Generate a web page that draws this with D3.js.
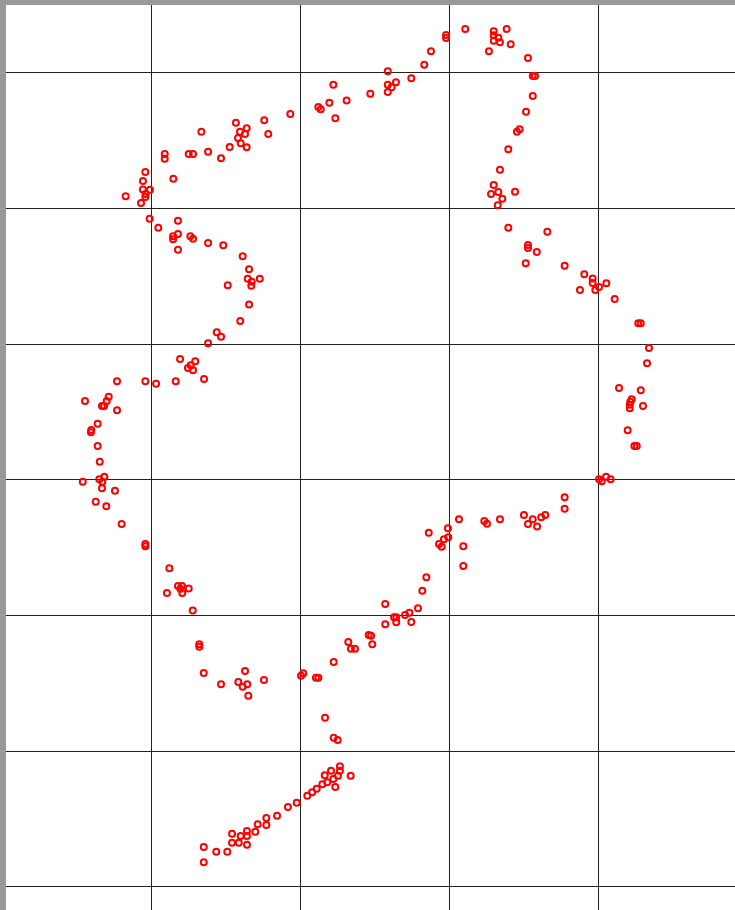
<!DOCTYPE html>
<html>
<head>
<meta charset="utf-8">
<script src="https://cdn.jsdelivr.net/npm/d3@7"></script>
<style>
  html, body { margin: 0; padding: 0; background: #fff; }
  svg { display: block; }
</style>
</head>
<body>
<div id="chart"></div>
<script>
// grid ticks
var xTicks = [0, 10, 20, 30, 40, 50];
var yTicks = [0, 10, 20, 30, 40, 50, 60];

// points
var xValues = [
  15.70, 13.38, 15.97, 16.42, 16.31, 15.84, 16.02, 16.42, 15.28, 13.83,
  14.70, 12.53, 12.82, 10.92, 10.92, 11.50, 9.62, 9.46, 9.46, 9.93,
  9.64, 9.62, 8.30, 9.33, 9.91, 10.49, 11.81, 11.81, 11.48, 11.48,
  11.81, 12.64, 12.82, 13.83, 14.85, 16.15, 16.58, 16.49, 16.76, 16.73,
  17.30, 15.15, 16.58, 15.99, 14.41, 14.70, 13.83, 11.95, 12.97, 12.66,
  12.48, 12.82, 13.56, 11.66, 10.34, 9.62, 7.72, 7.16, 7.03, 6.71,
  6.85, 5.57, 7.72, 6.42, 5.99, 5.97, 6.42, 6.56, 6.87, 6.53,
  6.73, 5.42, 6.71, 7.58, 6.29, 7.00, 8.03, 9.62, 9.62, 11.23,
  11.81, 12.08, 11.97, 12.53, 11.07, 12.10, 12.80, 13.24, 13.24, 13.54,
  14.70, 15.86, 16.31, 16.15, 16.46, 17.58, 16.53,
  20.07, 20.22, 21.07, 21.23, 22.26, 23.24, 23.42, 23.69, 24.61, 24.77,
  24.85, 25.72, 25.72, 26.31, 26.46, 26.46, 27.05, 27.34, 27.47, 27.92,
  28.21, 28.48, 28.64, 29.33, 29.51, 29.66, 29.95, 29.93, 30.67, 30.96,
  30.96, 32.37, 32.55, 33.42, 35.03, 35.30, 35.62, 35.91, 36.19, 36.46,
  37.76, 37.76, 40.07, 40.25, 40.54, 40.85, 41.99, 42.44, 42.60, 42.13,
  42.13, 42.17, 42.26, 43.02, 42.87, 41.41, 43.29, 43.42, 42.70, 42.87,
  41.12, 39.82, 40.07, 40.56, 39.64, 39.64, 39.08, 38.79, 37.76, 35.15,
  35.89, 35.30, 35.30, 36.60, 33.98, 33.27, 33.58, 32.82, 33.31, 33.00,
  34.43, 33.42, 33.98, 34.56, 34.74, 35.17, 35.62, 35.62, 35.77, 35.30,
  34.14, 33.42, 33.00, 33.31, 33.00, 33.00, 33.87, 32.68, 31.09, 29.80,
  29.80, 28.79, 28.34, 27.47, 25.89, 26.44, 26.15, 25.89, 25.89, 24.72,
  23.13, 22.24, 21.97, 21.23, 21.39, 22.37, 19.35, 17.60, 17.87,
  21.68, 22.26, 22.53, 22.68, 22.08, 22.68, 21.66, 22.55, 22.24, 23.40,
  21.83, 21.50, 22.37, 21.12, 20.81, 20.49, 19.78, 19.19, 18.46, 17.74,
  17.74, 17.16, 17.00, 16.44, 16.44, 16.02, 15.44, 15.44, 15.89, 16.44,
  15.12, 14.38, 13.54, 13.54
];
var yValues = [
  56.28, 55.62, 55.62, 55.87, 55.45, 55.16, 54.77, 54.47, 54.49, 54.15,
  53.66, 53.98, 53.98, 53.98, 53.63, 52.16, 52.65, 51.99, 51.37, 51.34,
  51.03, 50.81, 50.86, 50.36, 49.21, 48.54, 49.06, 48.08, 47.91, 47.69,
  46.92, 47.91, 47.73, 47.42, 47.25, 46.44, 45.48, 44.79, 44.56, 44.27,
  44.79, 44.30, 42.88, 41.67, 40.83, 40.51, 40.02, 38.87, 38.70, 38.40,
  38.20, 38.03, 37.39, 37.22, 37.05, 37.22, 37.22, 36.09, 35.77, 35.40,
  35.40, 35.77, 35.09, 34.10, 33.63, 33.46, 32.45, 31.30, 30.19, 30.00,
  29.82, 29.82, 29.34, 29.16, 28.35, 28.01, 26.70, 25.23, 25.06, 23.44,
  22.13, 22.13, 21.94, 21.96, 21.62, 21.62, 20.33, 17.84, 17.66, 15.72,
  14.89, 15.06, 15.87, 14.71, 14.89, 15.21, 14.05,
  15.52, 15.70, 15.38, 15.38, 16.53, 18.01, 17.51, 17.51, 18.52, 18.47,
  17.84, 20.81, 19.31, 19.83, 19.83, 19.46, 20.00, 20.17, 19.48, 20.49,
  21.79, 22.78, 26.06, 25.23, 25.03, 25.58, 25.72, 26.39, 27.05, 25.06,
  23.61, 26.93, 26.73, 27.05, 27.37, 26.70, 27.05, 26.53, 27.20, 27.37,
  28.67, 27.83, 30.00, 29.85, 30.19, 30.00, 33.61, 32.45, 32.45, 35.23,
  35.50, 35.72, 35.90, 35.40, 36.56, 36.73, 38.55, 39.68, 41.50, 41.50,
  43.29, 43.95, 44.17, 44.45, 44.47, 44.81, 45.11, 43.95, 45.74, 45.92,
  46.75, 47.05, 47.27, 48.25, 48.54, 50.20, 50.68, 51.03, 51.17, 51.69,
  51.20, 52.82, 54.32, 55.62, 55.80, 57.09, 58.25, 59.73, 59.73, 61.05,
  62.06, 62.21, 62.33, 62.55, 62.73, 63.02, 63.19, 61.55, 63.19, 62.75,
  62.53, 61.55, 60.56, 59.56, 60.07, 59.26, 58.89, 59.08, 58.55, 58.42,
  57.93, 59.08, 57.76, 57.44, 57.27, 56.61, 56.92, 56.46, 55.45,
  12.43, 10.95, 10.78, 8.84, 8.52, 8.52, 8.18, 8.15, 7.91, 8.15,
  7.67, 7.52, 7.32, 7.19, 6.93, 6.68, 6.16, 5.85, 5.20, 5.03,
  4.52, 4.57, 4.02, 4.08, 3.71, 3.71, 3.88, 3.21, 3.21, 3.07,
  2.55, 2.55, 2.90, 1.77
];

var width = 735, height = 910;
var marginLeft = 6, marginTop = 5;

var points = xValues.map(function(v, i){ return { x: v, y: yValues[i] }; });

var svg = d3.select("#chart")
  .append("svg")
  .attr("width", width)
  .attr("height", height);

// grey frame
svg.append("rect")
  .attr("width", width)
  .attr("height", height)
  .attr("fill", "#999999");
svg.append("rect")
  .attr("x", marginLeft)
  .attr("y", marginTop)
  .attr("width", width - marginLeft)
  .attr("height", height - marginTop)
  .attr("fill", "#ffffff");

svg.append("defs").append("clipPath")
  .attr("id", "plotClip")
  .append("rect")
  .attr("x", marginLeft)
  .attr("y", marginTop)
  .attr("width", width - marginLeft)
  .attr("height", height - marginTop);

var x = d3.scaleLinear().domain([0, 50]).range([2, 747]);
var y = d3.scaleLinear().domain([0, 60]).range([886.3, 72.3]);

var plot = svg.append("g").attr("clip-path", "url(#plotClip)");

// grid lines via axes, labels hidden
var xGrid = plot.append("g")
  .attr("transform", "translate(0," + height + ")")
  .call(d3.axisBottom(x).tickValues(xTicks).tickSize(-height).tickFormat(""));
var yGrid = plot.append("g")
  .attr("transform", "translate(" + width + ",0)")
  .call(d3.axisLeft(y).tickValues(yTicks).tickSize(width).tickFormat(""));

[xGrid, yGrid].forEach(function(g){
  g.select(".domain").remove();
  g.selectAll(".tick line")
    .attr("stroke", "#222")
    .attr("stroke-width", 1)
    .attr("shape-rendering", "crispEdges");
});

plot.append("g")
  .selectAll("circle")
  .data(points)
  .enter()
  .append("circle")
  .attr("cx", function(d){ return x(d.x); })
  .attr("cy", function(d){ return y(d.y); })
  .attr("r", 3)
  .attr("fill", "none")
  .attr("stroke", "#ff0000")
  .attr("stroke-width", 2);
</script>
</body>
</html>
